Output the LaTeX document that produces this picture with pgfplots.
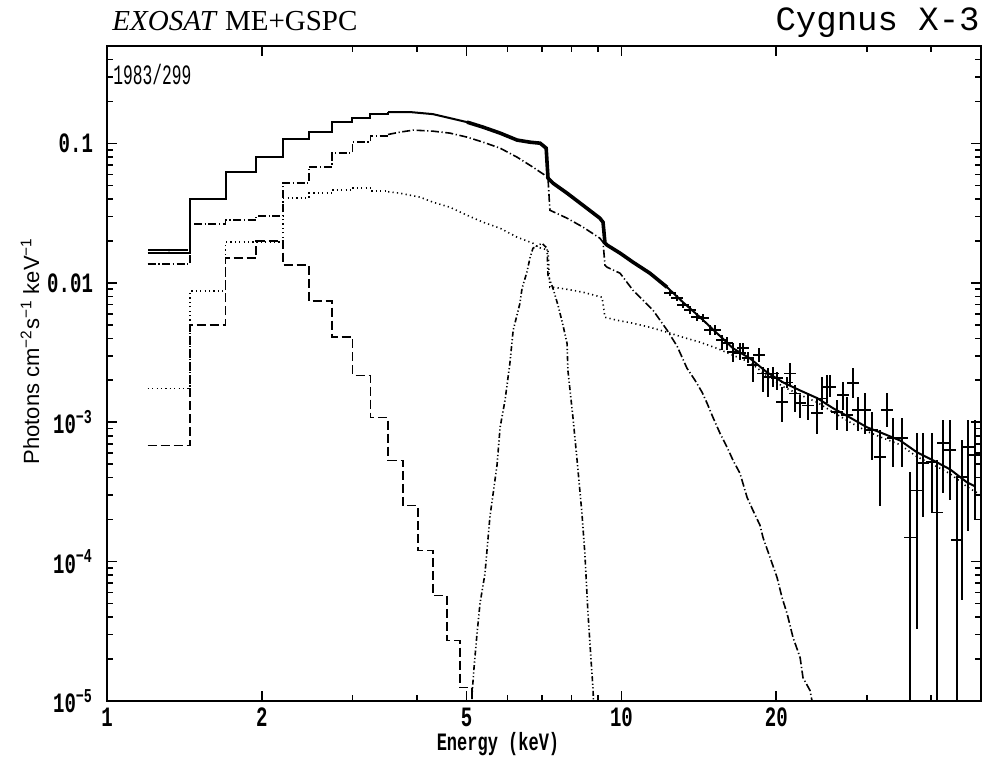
\documentclass[border=0pt]{standalone}
\usepackage{fontspec}
\setmainfont{Liberation Serif}
\newfontfamily\cmono{Liberation Mono}[FakeStretch=0.68]
\newfontfamily\cmonon{Liberation Mono}[FakeStretch=0.58]
\newfontfamily\mono{Liberation Mono}
\newfontfamily\sansf{Liberation Sans}
\usepackage{pgfplots}
\usepackage{pgfplotstable}
\pgfplotsset{compat=1.18}
\newcommand\tickfont{\cmono\fontsize{14}{14}\selectfont\bfseries}

% high-energy data points: E, y, error plus, error minus
\pgfplotstableread{
E y ep em
12.43 0.00842 0.00043 0.00041
12.83 0.00775 0.00040 0.00037
13.17 0.00691 0.00035 0.00034
13.59 0.00636 0.00043 0.00041
14.03 0.00566 0.00039 0.00036
14.41 0.00557 0.00038 0.00036
14.87 0.00457 0.00039 0.00037
15.20 0.00457 0.00039 0.00037
15.69 0.00387 0.00033 0.00059
16.05 0.00368 0.00039 0.00040
16.48 0.00318 0.00050 0.00049
17.01 0.00312 0.00056 0.00034
17.24 0.00339 0.00029 0.00037
17.63 0.00288 0.00030 0.00023
18.03 0.00256 0.00032 0.00063
18.52 0.00302 0.00037 0.00033
18.85 0.00224 0.00024 0.00060
19.28 0.00210 0.00034 0.00059
19.71 0.00224 0.00024 0.00046
20.07 0.00207 0.00021 0.00038
20.52 0.00139 0.00039 0.00039
20.99 0.00193 0.00017 0.00018
21.27 0.00224 0.00041 0.00040
21.75 0.00161 0.00023 0.00043
22.25 0.00137 0.00019 0.00029
23.06 0.00132 0.00024 0.00029
24.01 0.00116 0.00035 0.00033
24.55 0.00148 0.00062 0.00026
25.10 0.00178 0.00039 0.00041
25.44 0.00178 0.00039 0.00027
26.25 0.00118 0.00026 0.00030
26.97 0.00156 0.00037 0.00034
27.46 0.00112 0.00039 0.00025
28.20 0.00190 0.00054 0.00041
28.84 0.00122 0.00029 0.00035
29.76 0.00122 0.00039 0.00039
30.71 0.000875 0.00031 0.00034
31.83 0.00056 0.00032 0.00031
32.84 0.00122 0.00039 0.00030
33.73 0.000766 0.00030 0.00029
35.12 0.000766 0.00030 0.00029
36.39 0.000149 0.000288 0.000142
37.56 0.000324 0.000508 0.000291
38.58 0.000507 0.000325 0.000299
40.17 0.000515 0.000317 0.000293
41.07 0.000225 0.000308 0.000216
42.19 0.000706 0.000324 0.000397
43.54 0.000629 0.000401 0.000354
44.93 0.000142 0.000260 0.000135
45.94 0.000402 0.000340 0.000349
47.19 0.000661 0.000369 0.000494
48.69 0.000579 0.000451 0.000381
}\datatable

\begin{document}
\begin{tikzpicture}
\useasboundingbox (-53.5pt,-27.5pt) rectangle (439pt,350.5pt);
\begin{axis}[
  at={(0pt,0pt)}, anchor=south west,
  scale only axis, width=437pt, height=327.5pt,
  xmode=log, ymode=log,
  xmin=1, xmax=50, ymin=1e-5, ymax=0.5,
  xtick={1,2,5,10,20}, xticklabels={1,2,5,10,20},
  minor xtick={3,4,6,7,8,9,30,40},
  ytick={1e-5,1e-4,1e-3,0.01,0.1},
  yticklabels={10\textsuperscript{−5},10\textsuperscript{−4},10\textsuperscript{−3},0.01,0.1},
  minor ytick={2e-5,3e-5,4e-5,5e-5,6e-5,7e-5,8e-5,9e-5,
               2e-4,3e-4,4e-4,5e-4,6e-4,7e-4,8e-4,9e-4,
               0.002,0.003,0.004,0.005,0.006,0.007,0.008,0.009,
               0.02,0.03,0.04,0.05,0.06,0.07,0.08,0.09,0.2,0.3,0.4},
  tick align=inside,
  major tick length=5pt, minor tick length=3pt,
  tick style={black, line width=0.8pt},
  axis line style={line width=1pt},
  ticklabel style={font=\tickfont},
  yticklabel style={xshift=-3.5pt},
  xticklabel style={yshift=0pt},
  no markers,
]
% ---- total model (solid) ----
\addplot[black, line width=1pt, const plot] coordinates {
(1.2,0.0163) (1.45,0.0398) (1.7,0.0622) (1.95,0.0798) (2.2,0.1074)
(2.47,0.1206) (2.74,0.1422) (3.0,0.152) (3.25,0.1623) (3.52,0.168)};
\addplot[black, line width=1pt, sharp plot] coordinates {
(3.52,0.168) (3.88,0.168) (4.30,0.1623) (4.64,0.152) (5.01,0.1422)
(5.38,0.131) (5.81,0.1186) (6.27,0.1057) (6.64,0.1021) (6.95,0.1004)
(7.14,0.0925) (7.20,0.0564) (7.36,0.0519) (7.84,0.044) (8.42,0.036)
(9.08,0.0291) (9.21,0.0272) (9.29,0.0193) (9.38,0.01864) (9.94,0.01633)
(10.53,0.01407) (11.36,0.01172) (12.27,0.00929) (13.17,0.00726)
(14.22,0.00566) (15.34,0.00435) (16.48,0.00339) (17.78,0.00287)
(19.19,0.00228) (20.62,0.00193) (22.25,0.00169) (24.01,0.00149)
(25.79,0.00126) (27.82,0.00108) (30.02,0.00092) (32.25,0.00083)
(34.8,0.00074) (37.56,0.000608) (40.35,0.000533) (43.54,0.000459)
(46.98,0.00037) (48.69,0.000347)};
% dense data region drawn thick
\addplot[black, line width=1.8pt, sharp plot] coordinates {
(5.01,0.1422) (5.38,0.131) (5.81,0.1186) (6.27,0.1057) (6.64,0.1021)
(6.95,0.1004) (7.14,0.0925) (7.20,0.0564) (7.36,0.0519) (7.84,0.044)
(8.42,0.036) (9.08,0.0291) (9.21,0.0272) (9.29,0.0193) (9.38,0.01864)
(9.94,0.01633) (10.53,0.01407) (11.36,0.01172) (12.27,0.00929)};
% ---- main continuum (dash-dot) ----
\addplot[black, line width=0.8pt, dash pattern=on 4pt off 1.3pt on 0.6pt off 1.3pt, const plot] coordinates {
(1.2,0.01359) (1.45,0.02634) (1.7,0.02813) (1.95,0.03005) (2.2,0.05222)
(2.47,0.06803) (2.74,0.08574) (3.0,0.1022) (3.25,0.1128) (3.52,0.116)};
\addplot[black, line width=0.8pt, dash pattern=on 4pt off 1.3pt on 0.6pt off 1.3pt, sharp plot] coordinates {
(3.52,0.116) (3.71,0.1205) (3.94,0.1246) (4.30,0.1225) (4.64,0.1186)
(5.01,0.111) (5.38,0.1022) (5.81,0.0925) (6.27,0.0797) (6.73,0.0676)
(7.10,0.0592) (7.20,0.0564) (7.26,0.0332) (7.84,0.0291) (8.42,0.0251)
(9.08,0.0209) (9.21,0.01956) (9.29,0.01337) (9.38,0.01294) (9.94,0.01172)
(10.53,0.00885) (11.02,0.0075) (11.52,0.00636) (12.27,0.00457)
(12.83,0.00351) (13.41,0.00244) (13.9,0.002) (14.35,0.00164)
(14.67,0.00137) (15.07,0.00108) (15.55,0.000832) (16.05,0.000661)
(16.48,0.000533) (17.0,0.00043) (17.55,0.000289) (18.03,0.000232)
(18.6,0.000182) (18.85,0.000149) (19.45,0.000107) (20.07,7.69e-5)
(20.52,5.52e-5) (20.99,4.24e-5) (21.56,2.85e-5) (22.25,2.05e-5)
(22.54,1.47e-5) (23.26,1.19e-5) (23.47,1.0e-5) (23.6,5e-6)};
% ---- power law (dotted) ----
\addplot[black, line width=0.8pt, dash pattern=on 0.6pt off 1.6pt, const plot] coordinates {
(1.2,0.00175) (1.45,0.0087) (1.7,0.01956) (1.95,0.0197) (2.2,0.04049)
(2.47,0.04396) (2.74,0.04621) (3.0,0.04775) (3.25,0.04546) (3.52,0.045)};
\addplot[black, line width=0.8pt, dash pattern=on 0.6pt off 1.6pt, sharp plot] coordinates {
(3.52,0.045) (3.71,0.04396) (4.06,0.04117) (4.30,0.03791) (4.64,0.03489)
(5.01,0.03056) (5.38,0.02723) (5.81,0.02465) (6.27,0.02125) (6.73,0.01924)
(6.88,0.018) (7.10,0.01742) (7.20,0.0168) (7.26,0.0093) (7.36,0.0093)
(7.84,0.00899) (8.42,0.00856) (9.17,0.00788) (9.29,0.00566) (9.80,0.00539)
(10.53,0.00513) (11.36,0.0048) (12.27,0.00442) (13.17,0.00407)
(14.22,0.00375) (15.34,0.00339) (16.48,0.00302) (17.78,0.00269)
(19.19,0.00215) (20.62,0.0018) (22.25,0.00157) (24.01,0.00139)
(25.79,0.00118) (27.82,0.001) (30.02,0.00086) (32.25,0.00077)
(34.8,0.00069) (37.56,0.000565) (40.35,0.000496) (43.54,0.000427)
(46.98,0.000344) (50,0.0003)};
% ---- soft component (dashed) ----
\addplot[black, line width=0.8pt, dash pattern=on 4.5pt off 2pt, const plot] coordinates {
(1.2,6.83e-4) (1.45,0.00496) (1.7,0.01502) (1.95,0.01989) (2.2,0.01337)
(2.47,0.00738) (2.74,0.00407) (3.0,0.00217) (3.25,0.00108) (3.52,0.000533)
(3.76,0.000253) (4.02,0.0001203) (4.3,5.72e-5) (4.58,2.72e-5)
(4.86,1.25e-5) (5.12,5e-6)};
% ---- iron line (dash-dot-dot) ----
\addplot[black, line width=0.8pt, dash pattern=on 2.5pt off 1.2pt on 0.6pt off 1.2pt on 0.6pt off 1.2pt, sharp plot] coordinates {
(5.10,5e-6) (5.125,1.13e-5) (5.17,1.74e-5) (5.24,3.05e-5) (5.31,5.01e-5)
(5.43,8.23e-5) (5.55,2.08e-4) (5.73,4.91e-4) (5.81,9.19e-4) (5.94,1.44e-3)
(6.07,2.65e-3) (6.16,4.57e-3) (6.35,7.14e-3) (6.41,9.14e-3) (6.55,0.01192)
(6.64,0.01502) (6.73,0.01772) (7.01,0.01924) (7.17,0.01772) (7.20,0.01134)
(7.36,0.00914) (7.53,0.0069) (7.70,0.00496) (7.84,0.00368) (7.87,0.00236)
(8.05,0.00108) (8.20,0.000533) (8.38,0.000222) (8.49,1.145e-4)
(8.61,4.25e-5) (8.73,1.95e-5) (8.81,1.19e-5) (8.86,5e-6)};
% ---- data ----
\addplot[black, only marks, mark=*, mark size=0.4pt,
  error bars/.cd, x dir=both, x explicit, y dir=both, y explicit,
  error mark=none, error bar style={line width=0.9pt, solid}]
  coordinates {(1.32,0.01714) +- (0.12,0.0002)};
\addplot[black, only marks, mark=*, mark size=0.4pt,
  error bars/.cd, x dir=both, x explicit relative, y dir=both, y explicit,
  error mark=none, error bar style={line width=0.9pt, solid}]
  table[x=E, y=y, x error expr=0.028, y error plus=ep, y error minus=em] {\datatable};
\end{axis}
% ---- texts ----
\node[anchor=base west, font=\fontsize{14.5}{15}\selectfont, inner sep=0pt] at (2.5pt,335pt) {\textit{EXOSAT} ME+GSPC};
\node[anchor=base east, font=\mono\fontsize{17}{18}\selectfont, inner sep=0pt] at (436.5pt,335pt) {Cygnus X-3};
\node[anchor=base west, font=\cmonon\fontsize{14}{14}\selectfont, inner sep=0pt] at (3pt,308pt) {1983/299};
\node[font=\cmono\fontsize{12.5}{13}\selectfont\bfseries, inner sep=0pt] at (195.5pt,-21.5pt) {Energy (keV)};
\node[rotate=90, font=\sansf\fontsize{11}{12}\selectfont, inner sep=0pt] at (-38.5pt,175pt) {Photons cm\textsuperscript{−2}s\textsuperscript{−1} keV\textsuperscript{−1}};
\end{tikzpicture}
\end{document}
